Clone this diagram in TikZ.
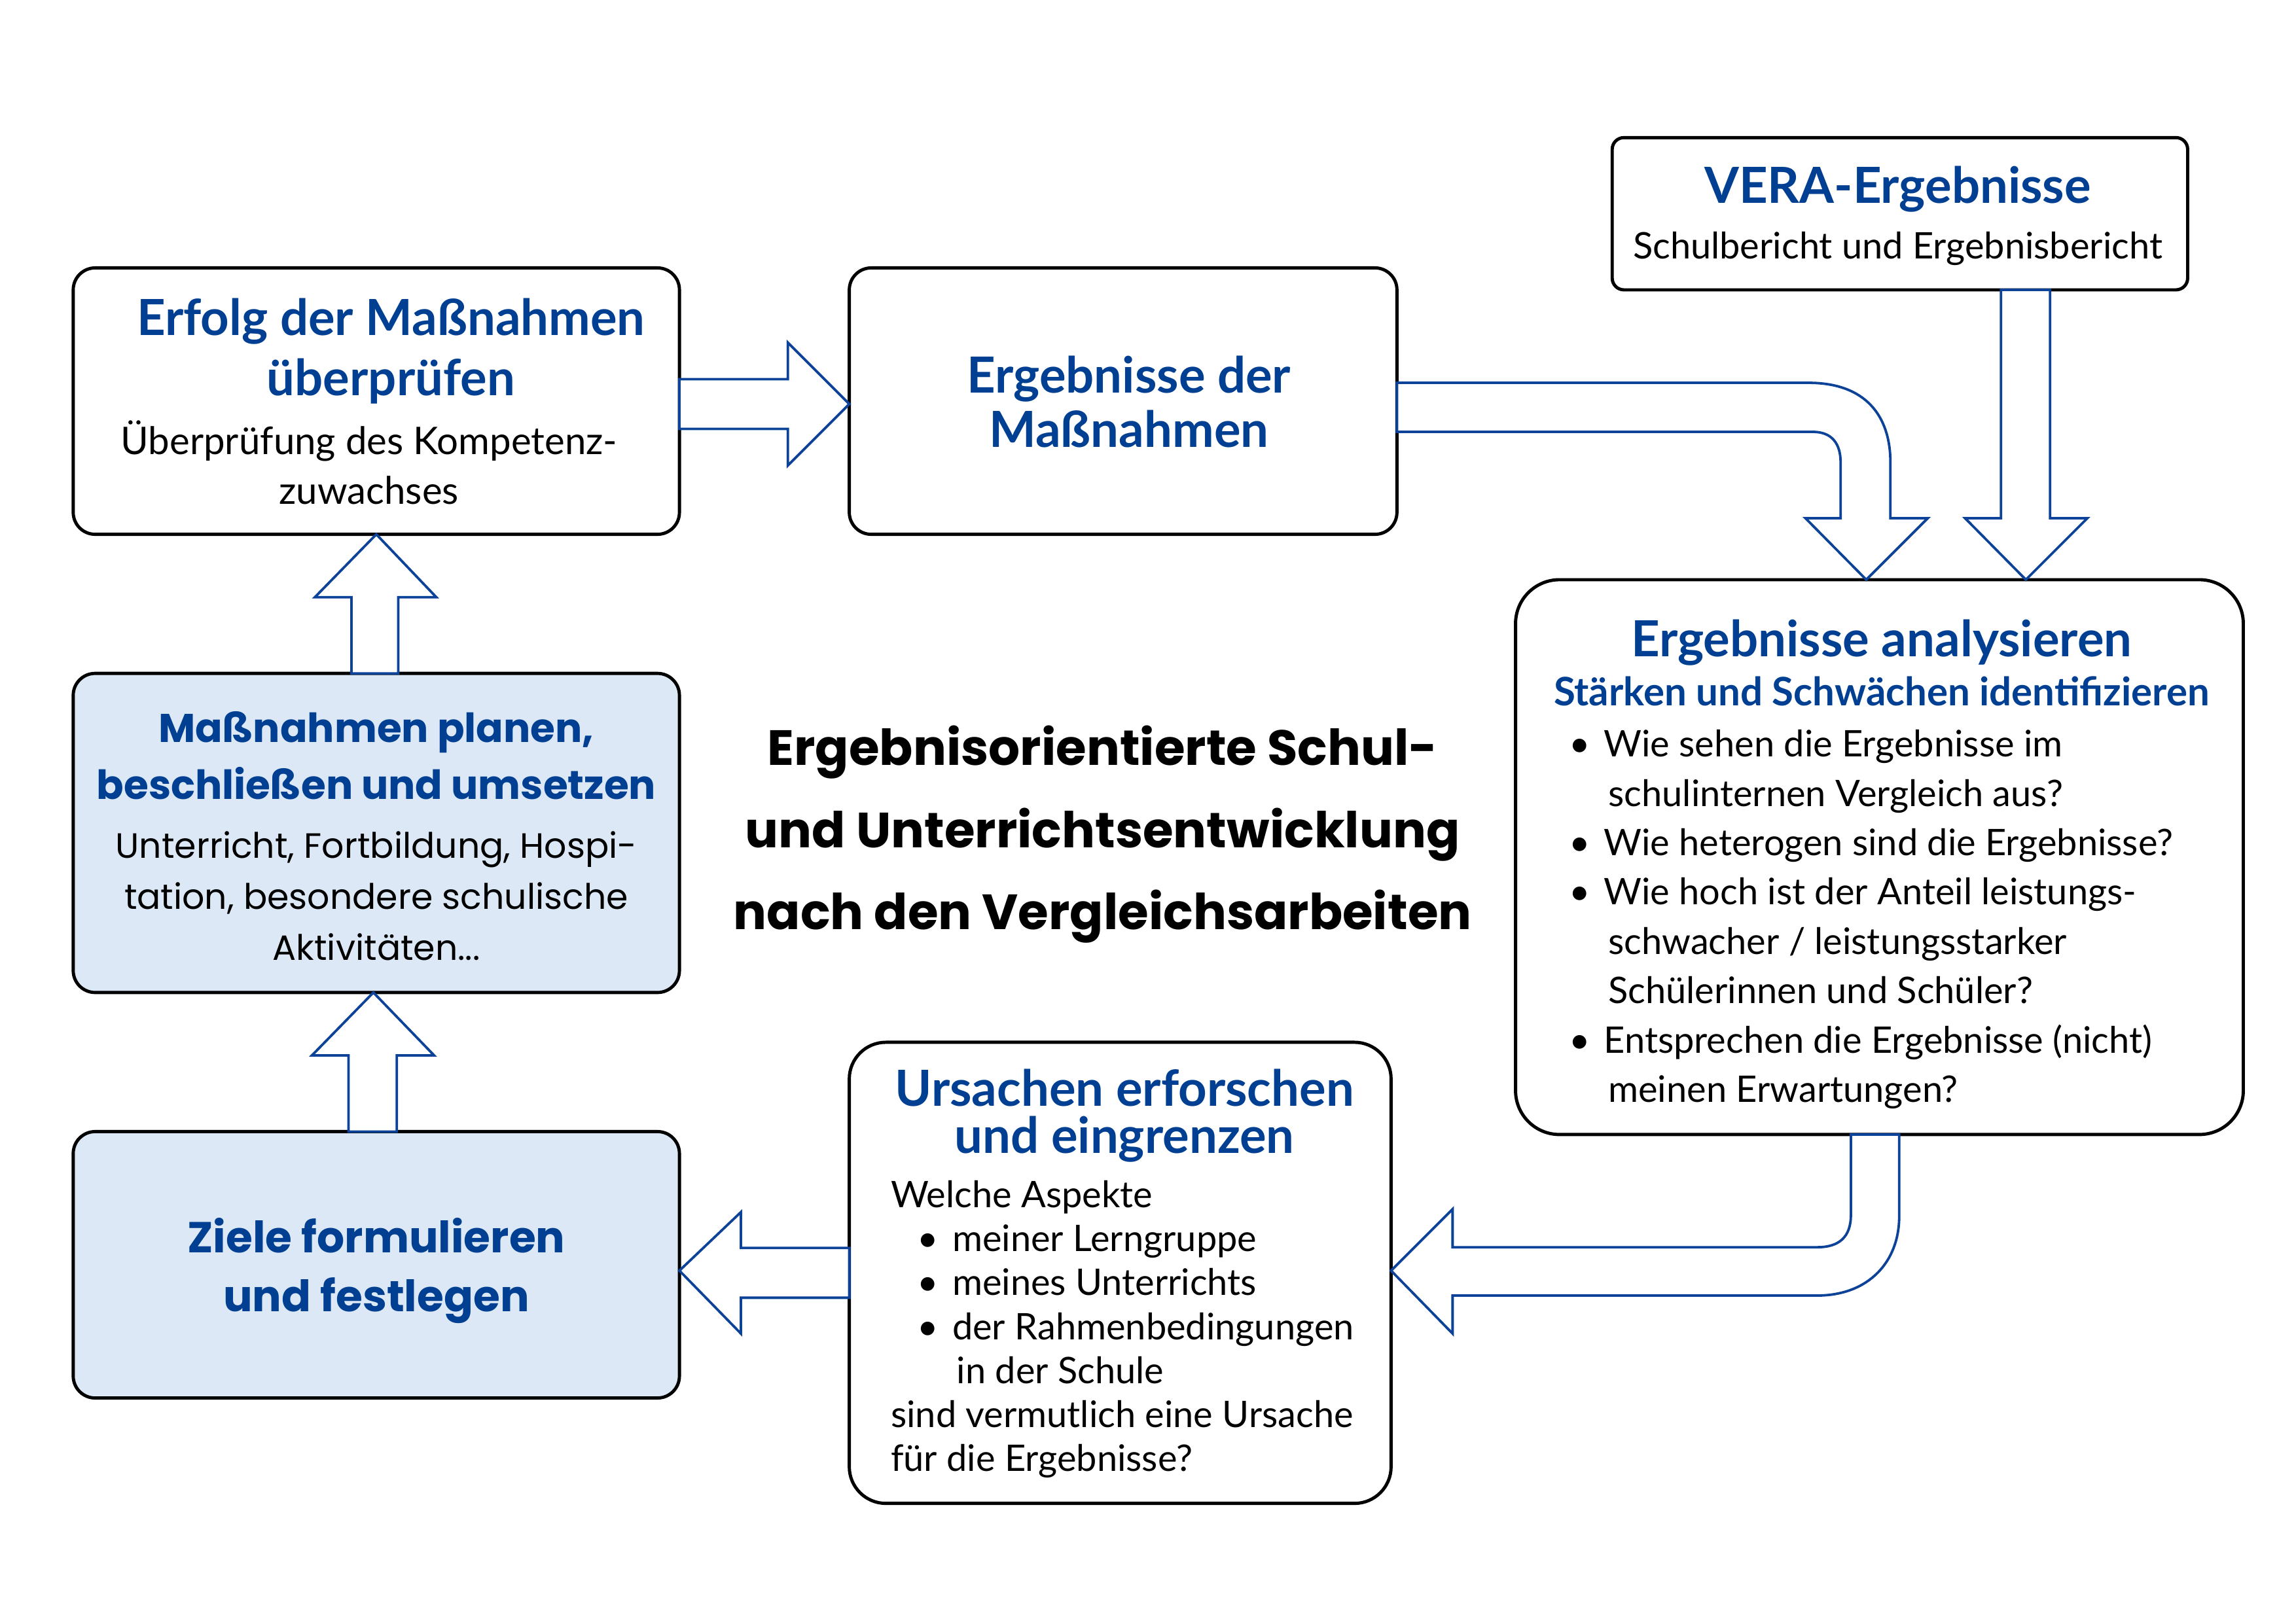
\documentclass[tikz,border=0pt]{standalone}
\usepackage{fontspec}
\setmainfont{Lato}
\newfontfamily\widefont{Poppins}
\usetikzlibrary{calc}
\definecolor{vblue}{RGB}{0,63,145}
\definecolor{ablue}{RGB}{12,66,152}
\definecolor{lblue}{RGB}{220,232,245}
\newcommand\bul{\makebox[12pt][l]{\textbullet}}
\newcommand\dbul{\makebox[21pt][l]{\hspace{9pt}\textbullet}}
\tikzset{
  box/.style={draw=black, line width=1.1pt, fill=white, inner sep=0pt, outer sep=0pt, rounded corners=7.5pt},
  shadedbox/.style={box, fill=lblue},
  barrow/.style={draw=ablue, fill=white, line width=0.85pt, line join=miter},
  txt/.style={inner sep=0pt, outer sep=0pt, align=center},
  ttl/.style={txt, text=vblue, font={\fontsize{17}{20.5}\selectfont\bfseries}},
  bdy/.style={txt, text=black, font={\fontsize{12.5}{17}\selectfont}},
}
\begin{document}
\begin{tikzpicture}[x=0.5pt, y=-0.5pt]
\useasboundingbox (0,0) rectangle (1568,1109);
\fill[white] (0,0) rectangle (1568,1109);

% boxes
\node[box, minimum width=207pt, minimum height=91pt] (A) at (257,274) {};
\node[box, minimum width=187pt, minimum height=91pt] (B) at (767,274) {};
\node[box, rounded corners=4pt, minimum width=196.5pt, minimum height=52pt] (V) at (1297.5,146) {};
\node[box, rounded corners=15pt, minimum width=248.5pt, minimum height=189.5pt] (C) at (1283.5,585.5) {};
\node[box, rounded corners=12.5pt, minimum width=185pt, minimum height=157.5pt] (D) at (765,869.5) {};
\node[shadedbox, minimum width=207pt, minimum height=91pt] (E) at (257,864) {};
\node[shadedbox, minimum width=207pt, minimum height=109pt] (F) at (257,569) {};

% texts
\node[ttl] (tA1) at (267,240) {Erfolg der Maßnahmen\\überprüfen};
\node[bdy, font={\fontsize{13}{17}\selectfont}] (tA2) at (252,316) {Überprüfung des Kompetenz-\\zuwachses};
\node[ttl, font={\fontsize{17}{18.5}\selectfont\bfseries}] (tB) at (771,274.5) {Ergebnisse der\\Maßnahmen};
\node[ttl] (tV1) at (1296,129) {VERA-Ergebnisse};
\node[bdy] (tV2) at (1296,170) {Schulbericht und Ergebnisbericht};
\node[ttl] (tC1) at (1285,439) {Ergebnisse analysieren};
\node[ttl, font={\fontsize{13.4}{15}\selectfont\bfseries}] (tC2) at (1285,472) {Stärken und Schwächen identifizieren};
\node[inner sep=0pt, anchor=base west, font={\fontsize{12.5}{16.85}\selectfont}] (tC3) at (1071,517) {%
\begin{tabular}[t]{@{}l@{}}
\bul Wie sehen die Ergebnisse im\\
\hspace{13.5pt}schulinternen Vergleich aus?\\
\bul Wie heterogen sind die Ergebnisse?\\
\bul Wie hoch ist der Anteil leistungs-\\
\hspace{13.5pt}schwacher / leistungsstarker\\
\hspace{13.5pt}Schülerinnen und Schüler?\\
\bul Entsprechen die Ergebnisse (nicht)\\
\hspace{13.5pt}meinen Erwartungen?
\end{tabular}};
\node[ttl, font={\fontsize{17}{16}\selectfont\bfseries}] (tD1) at (768,762) {Ursachen erforschen\\und eingrenzen};
\node[inner sep=0pt, anchor=base west, font={\fontsize{12.5}{15}\selectfont}] (tD2) at (608,825) {%
\begin{tabular}[t]{@{}l@{}}
Welche Aspekte\\
\dbul meiner Lerngruppe\\
\dbul meines Unterrichts\\
\dbul der Rahmenbedingungen\\
\hspace{22.5pt}in der Schule\\
sind vermutlich eine Ursache\\
für die Ergebnisse?
\end{tabular}};
\node[ttl, font={\widefont\fontsize{13.7}{19.5}\selectfont\bfseries}] (tF1) at (257,516) {Maßnahmen planen,\\beschließen und umsetzen};
\node[bdy, font={\widefont\fontsize{12}{17.5}\selectfont}] (tF2) at (257,612) {Unterricht, Fortbildung, Hospi-\\tation, besondere schulische\\Aktivitäten...};
\node[ttl, font={\widefont\fontsize{14.8}{20}\selectfont\bfseries}] (tE) at (257,868) {Ziele formulieren\\und festlegen};
\node[txt, text=black, font={\widefont\fontsize{16.9}{28}\selectfont\bfseries}] (title) at (753,570) {Ergebnisorientierte Schul-\\und Unterrichtsentwicklung\\nach den Vergleichsarbeiten};

% block arrows
% A -> B
\filldraw[barrow] ($(A.east)+(0,-15)$) -- (538,259) -- (538,234) -- ($(B.west)+(0,2)$) -- (538,318) -- (538,293) -- ($(A.east)+(0,19)$) -- cycle;
% B -> C (curved)
\filldraw[barrow] ($(B.east)+(0,-12.5)$) -- (1235,261.5) .. controls (1274,261.5) and (1291,284) .. (1291,316) -- (1291,354) -- (1316.5,354) -- ($(C.north)+(-9,0)$) -- (1233,354) -- (1257,354) -- (1257,316) .. controls (1257,303) and (1251,295) .. (1238,295) -- ($(B.east)+(0,21)$) -- cycle;
% VERA -> C
\filldraw[barrow] ($(V.south)+(69,0)$) -- (1366.5,354) -- (1342,354) -- ($(C.north)+(100,0)$) -- (1425.5,354) -- (1400,354) -- ($(V.south)+(102.5,0)$) -- cycle;
% C -> D (curved)
\filldraw[barrow] ($(C.south)+(-19.5,0)$) -- (1264,830) .. controls (1264,845) and (1256,852) .. (1241,852) -- (992,852) -- (992,826) -- ($(D.east)+(0,-1.5)$) -- (992,911) -- (992,885) -- (1241,885) .. controls (1276,885) and (1297,862) .. (1297,831) -- ($(C.south)+(13.5,0)$) -- cycle;
% D -> E
\filldraw[barrow] ($(D.west)+(0,-17)$) -- (506,852.5) -- (506,828) -- ($(E.east)+(0,4)$) -- (506,911) -- (506,886.5) -- ($(D.west)+(0,17)$) -- cycle;
% E -> F
\filldraw[barrow] ($(E.north)+(-19,0)$) -- (238,721) -- (213,721) -- ($(F.south)+(-2,0)$) -- (296.5,721) -- (271,721) -- ($(E.north)+(14,0)$) -- cycle;
% F -> A
\filldraw[barrow] ($(F.north)+(-17,0)$) -- (240,408) -- (215,408) -- (A.south) -- (298,408) -- (272,408) -- ($(F.north)+(15,0)$) -- cycle;
\end{tikzpicture}
\end{document}
